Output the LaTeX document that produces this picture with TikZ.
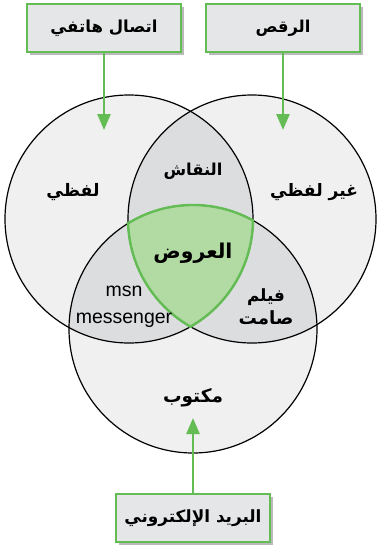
\documentclass[tikz,border=0pt]{standalone}
\usepackage{graphicx}
\usepackage{fontspec}
\setmainfont{Liberation Sans}
\newfontfamily\arabicfont[Script=Arabic]{DejaVu Sans}
\TeXXeTstate=1
\usetikzlibrary{arrows.meta,shadows}

\definecolor{ringgray}{HTML}{F0F0F0}
\definecolor{lensgray}{HTML}{DCDDDF}
\definecolor{coregreen}{HTML}{B2DAA3}
\definecolor{edgegreen}{HTML}{64BC55}
\definecolor{boxgray}{HTML}{E5E6E7}

% Arabic words set bold and scaled to a given width
\newcommand{\ar}[2]{\resizebox{#1}{!}{\arabicfont\bfseries #2}}

\tikzset{
  labelbox/.style={draw=edgegreen, line width=2.2pt, fill=boxgray,
    minimum width=154pt, minimum height=48pt, inner sep=0pt,
    drop shadow={shadow xshift=2.5pt, shadow yshift=-2.5pt, fill=black!45, opacity=0.6}},
  pointer/.style={draw=edgegreen, line width=2.6pt,
    -{Triangle[width=13pt,length=16pt]}, shorten >=0pt},
  areatext/.style={align=center, inner sep=0pt},
  ring/.style={circle, draw=black, line width=1.2pt, minimum size=248pt, inner sep=0pt}
}

\begin{document}
\begin{tikzpicture}[x=1pt, y=-1pt]
\useasboundingbox (0,0) rectangle (377,549);

% circle centres and radius
\def\rad{124}
\coordinate (cL) at (129,219);
\coordinate (cR) at (252,219);
\coordinate (cB) at (193,329);

% base fills
\fill[ringgray] (cL) circle (\rad);
\fill[ringgray] (cR) circle (\rad);
\fill[ringgray] (cB) circle (\rad);

% pairwise overlaps
\begin{scope}
  \clip (cL) circle (\rad);
  \fill[lensgray] (cR) circle (\rad);
  \fill[lensgray] (cB) circle (\rad);
\end{scope}
\begin{scope}
  \clip (cR) circle (\rad);
  \fill[lensgray] (cB) circle (\rad);
\end{scope}

% triple overlap
\begin{scope}
  \clip (cL) circle (\rad);
  \clip (cR) circle (\rad);
  \fill[coregreen] (cB) circle (\rad);
\end{scope}

% outlines
\node[ring] (L) at (cL) {};
\node[ring] (R) at (cR) {};
\node[ring] (B) at (cB) {};

% green border of the triple overlap
\begin{scope}
  \clip (cL) circle (\rad);
  \clip (cR) circle (\rad);
  \draw[edgegreen, line width=2.4pt] (cB) circle (\rad);
\end{scope}
\begin{scope}
  \clip (cL) circle (\rad+1.2);
  \clip (cB) circle (\rad+1.2);
  \draw[edgegreen, line width=2.4pt] (cR) circle (\rad);
\end{scope}
\begin{scope}
  \clip (cR) circle (\rad+1.2);
  \clip (cB) circle (\rad+1.2);
  \draw[edgegreen, line width=2.4pt] (cL) circle (\rad);
\end{scope}

% region labels
\node[areatext] (verbal) at (73,192) {\ar{53pt}{\beginR لفظي\endR}};
\node[areatext] (nonverbal) at (314,192) {\ar{88pt}{\beginR غير لفظي\endR}};
\node[areatext] (debate) at (193,171) {\ar{59pt}{\beginR النقاش\endR}};
\node[areatext] (shows) at (193,253) {\ar{79pt}{\beginR العروض\endR}};
\node[areatext, font=\fontsize{19.5}{27}\selectfont] (msn) at (124,307) {msn\\messenger};
\node[areatext] (film) at (266,307) {\ar{38pt}{\beginR فيلم\endR}\\[4pt]\ar{55pt}{\beginR صامت\endR}};
\node[areatext] (written) at (193,398) {\ar{60pt}{\beginR مكتوب\endR}};

% boxes
\node[labelbox] (phone) at (104,28) {\ar{107pt}{\beginR اتصال هاتفي\endR}};
\node[labelbox] (dance) at (283,28) {\ar{55pt}{\beginR الرقص\endR}};
\node[labelbox] (email) at (193,518) {\ar{137pt}{\beginR البريد الإلكتروني\endR}};

% pointer ends
\coordinate (phoneTip) at (104,130);
\coordinate (danceTip) at (283,130);
\coordinate (emailTip) at (193,418);

\draw[pointer] (phone.south) -- (phoneTip);
\draw[pointer] (dance.south) -- (danceTip);
\draw[pointer] (email.north) -- (emailTip);
\end{tikzpicture}
\end{document}
